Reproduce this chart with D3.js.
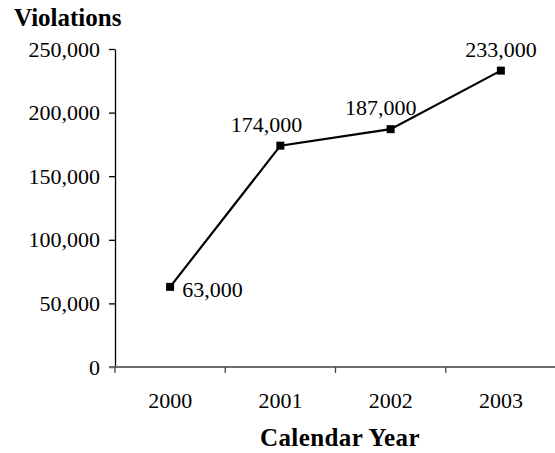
<!DOCTYPE html>
<html>
<head>
<meta charset="utf-8">
<script src="https://cdn.jsdelivr.net/npm/d3@7"></script>
<style>
  html, body { margin: 0; padding: 0; background: #fff; }
  svg { display: block; }
</style>
</head>
<body>
<svg id="chart" width="555" height="453"></svg>
<script>
// Annual violation counts
const years = ["2000", "2001", "2002", "2003"];
const violations = [63000, 174000, 187000, 233000];
const yTicks = [0, 50000, 100000, 150000, 200000, 250000];

// Label placement per point: [dx, dy, anchor]
const labelPlacement = [
  [12, 10, "start"],
  [-14, -14, "middle"],
  [-10, -14, "middle"],
  [0, -14, "middle"]
];

const FONT = "'Liberation Serif', 'Times New Roman', Times, serif";
const svg = d3.select("#chart");
const plotLeft = 115, plotRight = 556, plotTop = 49, plotBottom = 367;

const x = d3.scaleBand().domain(years).range([plotLeft, plotRight]);
const y = d3.scaleLinear().domain([0, 250000]).range([plotBottom, plotTop]);

const fmt = d3.format(",");

// Y axis
const yAxis = svg.append("g").attr("transform", `translate(${plotLeft},0)`)
  .call(d3.axisLeft(y).tickValues(yTicks).tickSize(6).tickSizeOuter(0).tickPadding(9).tickFormat(fmt));
yAxis.select(".domain").attr("stroke", "#000").attr("stroke-width", 1.3);
yAxis.selectAll(".tick line").attr("stroke", "#000").attr("stroke-width", 1.3);
yAxis.selectAll(".tick text")
  .style("font-family", FONT).style("font-size", "22px").attr("fill", "#000");

// X axis (ticks at category boundaries)
const xAxisG = svg.append("g").attr("transform", `translate(0,${plotBottom})`);
xAxisG.append("line").attr("x1", plotLeft - 6).attr("x2", plotRight).attr("y1", 0).attr("y2", 0)
  .attr("stroke", "#6e6e6e").attr("stroke-width", 2);
xAxisG.selectAll(".bt").data(years).join("line")
  .attr("x1", d => x(d)).attr("x2", d => x(d))
  .attr("y1", 0).attr("y2", 6)
  .attr("stroke", "#444").attr("stroke-width", 1.3);
xAxisG.selectAll(".lbl").data(years).join("text")
  .attr("x", d => x(d) + x.bandwidth() / 2)
  .attr("y", 41)
  .attr("text-anchor", "middle")
  .style("font-family", FONT).style("font-size", "22px")
  .text(d => d);

// Line
const pts = years.map((yr, i) => ({ yr, v: violations[i], i }));
const cx = d => x(d.yr) + x.bandwidth() / 2;
svg.append("path").datum(pts)
  .attr("fill", "none").attr("stroke", "#000").attr("stroke-width", 2.2)
  .attr("d", d3.line().x(cx).y(d => y(d.v)));

// Square markers
const ms = 8;
svg.selectAll(".m").data(pts).join("rect")
  .attr("x", d => cx(d) - ms / 2).attr("y", d => y(d.v) - ms / 2)
  .attr("width", ms).attr("height", ms).attr("fill", "#000");

// Value labels
svg.selectAll(".vl").data(pts).join("text")
  .attr("x", d => cx(d) + labelPlacement[d.i][0])
  .attr("y", d => y(d.v) + labelPlacement[d.i][1])
  .attr("text-anchor", d => labelPlacement[d.i][2])
  .style("font-family", FONT).style("font-size", "22px")
  .text(d => fmt(d.v));

// Axis titles
svg.append("text").attr("x", 14).attr("y", 26)
  .style("font-family", FONT).style("font-size", "25px").style("font-weight", "bold")
  .text("Violations");
svg.append("text").attr("x", 340).attr("y", 446)
  .attr("text-anchor", "middle")
  .style("font-family", FONT).style("font-size", "25px").style("font-weight", "bold")
  .style("letter-spacing", "0.4px")
  .text("Calendar Year");
</script>
</body>
</html>
